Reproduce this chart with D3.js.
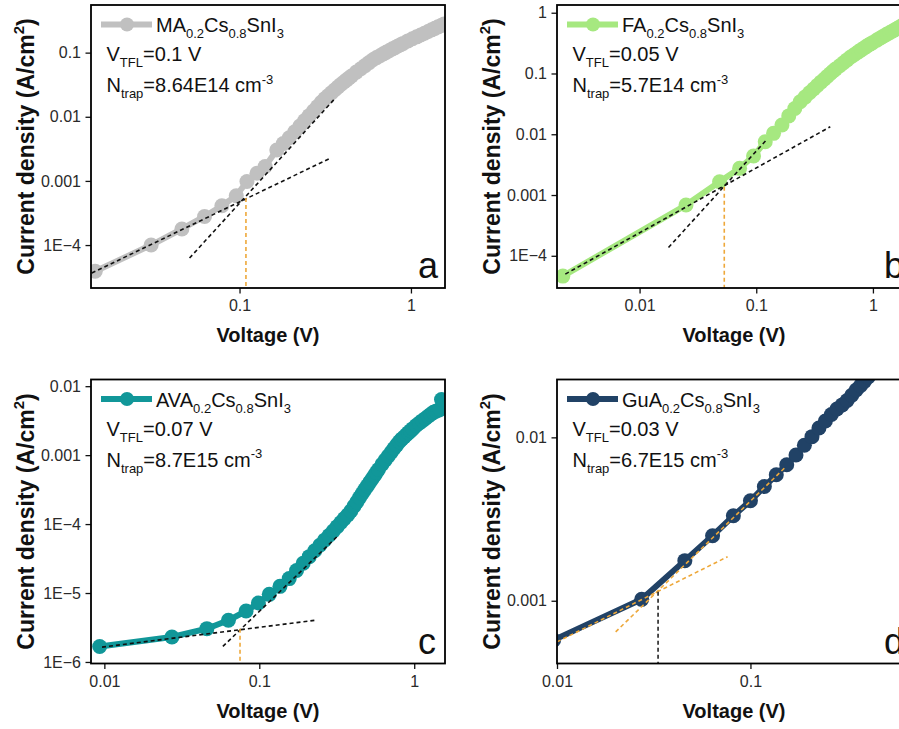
<!DOCTYPE html>
<html>
<head>
<meta charset="utf-8">
<script src="https://cdn.jsdelivr.net/npm/d3@7"></script>
<style>
  body { margin: 0; background: #fff; }
  svg { display: block; font-family: "Liberation Sans", Arial, sans-serif; }
</style>
</head>
<body>
<svg width="899" height="729"></svg>
<script>

// ---- values ----

// panel a : MA0.2Cs0.8SnI3
var voltA = [0.0144, 0.0305, 0.0461, 0.0625, 0.0789, 0.0957, 0.1105, 0.1264, 0.141, 0.165, 0.18, 0.195, 0.21, 0.225, 0.24, 0.255, 0.27, 0.285, 0.3, 0.315, 0.33, 0.345, 0.36, 0.375, 0.39, 0.405, 0.42, 0.435, 0.45, 0.48, 0.51, 0.54, 0.57, 0.6, 0.63, 0.66, 0.69, 0.72, 0.75, 0.78, 0.81, 0.84, 0.87, 0.9, 0.96, 1.02, 1.08, 1.14, 1.2, 1.26, 1.32, 1.38, 1.44, 1.5, 1.56]
var currA = [3.9e-5, 1.0e-4, 1.78e-4, 2.79e-4, 4.09e-4, 5.86e-4, 9.8e-4, 1.32e-3, 1.68e-3, 3.03e-3, 3.82e-3, 4.71e-3, 5.85e-3, 7.18e-3, 8.71e-3, 0.01042, 0.01233, 0.01445, 0.0168, 0.0192, 0.0214, 0.0238, 0.0264, 0.0291, 0.0319, 0.0346, 0.0373, 0.0403, 0.0433, 0.0497, 0.0561, 0.0628, 0.07, 0.0775, 0.0837, 0.0895, 0.0957, 0.102, 0.108, 0.1146, 0.1205, 0.1268, 0.133, 0.1393, 0.1524, 0.1643, 0.1764, 0.1888, 0.201, 0.2136, 0.2265, 0.2393, 0.2523, 0.2655, 0.2786]

// panel b : FA0.2Cs0.8SnI3
var voltB = [0.0022, 0.025, 0.0485, 0.072, 0.0948, 0.1194, 0.1407, 0.166, 0.19, 0.214, 0.238, 0.262, 0.286, 0.31, 0.334, 0.358, 0.382, 0.406, 0.43, 0.454, 0.478, 0.52, 0.56, 0.6, 0.64, 0.68, 0.72, 0.76, 0.8, 0.84, 0.88, 0.92, 0.96, 1.0, 1.08, 1.16, 1.24, 1.32, 1.4, 1.48, 1.56, 1.64, 1.72, 1.8, 1.88, 1.96, 2.04, 2.12]
var currB = [4.63e-5, 6.84e-4, 1.65e-3, 2.75e-3, 4.38e-3, 7.53e-3, 0.01035, 0.01417, 0.02004, 0.02655, 0.0343, 0.0409, 0.0481, 0.0557, 0.0637, 0.072, 0.0805, 0.0895, 0.099, 0.1088, 0.118, 0.1343, 0.1506, 0.1675, 0.1849, 0.2, 0.2155, 0.2312, 0.2472, 0.2633, 0.2797, 0.2948, 0.3096, 0.3244, 0.3543, 0.3848, 0.4157, 0.4445, 0.4733, 0.5024, 0.5315, 0.5606, 0.59, 0.6194, 0.649, 0.6786, 0.708, 0.738]

// panel c : AVA0.2Cs0.8SnI3
var voltC = [0.00933, 0.0273, 0.0459, 0.0632, 0.0822, 0.0987, 0.116, 0.136, 0.156, 0.174, 0.192, 0.21, 0.228, 0.246, 0.264, 0.282, 0.3, 0.318, 0.336, 0.354, 0.372, 0.39, 0.408, 0.426, 0.444, 0.462, 0.48, 0.498, 0.516, 0.534, 0.552, 0.57, 0.588, 0.62, 0.65, 0.68, 0.71, 0.74, 0.77, 0.8, 0.83, 0.86, 0.89, 0.92, 0.95, 0.98, 1.03, 1.08, 1.13, 1.18, 1.23, 1.28, 1.33, 1.38, 1.43, 1.47, 1.5]
var currC = [1.68e-6, 2.30e-6, 3.04e-6, 4.02e-6, 5.48e-6, 7.16e-6, 9.57e-6, 1.25e-5, 1.62e-5, 2.12e-5, 2.70e-5, 3.37e-5, 4.11e-5, 4.94e-5, 5.85e-5, 6.84e-5, 7.93e-5, 9.17e-5, 1.052e-4, 1.20e-4, 1.357e-4, 1.546e-4, 1.81e-4, 2.095e-4, 2.42e-4, 2.77e-4, 3.16e-4, 3.58e-4, 4.02e-4, 4.50e-4, 5.02e-4, 5.58e-4, 6.18e-4, 7.36e-4, 8.51e-4, 9.71e-4, 1.10e-3, 1.245e-3, 1.397e-3, 1.563e-3, 1.705e-3, 1.835e-3, 1.976e-3, 2.12e-3, 2.265e-3, 2.42e-3, 2.686e-3, 2.92e-3, 3.16e-3, 3.40e-3, 3.66e-3, 3.92e-3, 4.17e-3, 4.32e-3, 4.47e-3, 4.59e-3, 6.4e-3]

// panel d : GuA0.2Cs0.8SnI3
var voltD = [0.0096, 0.0274, 0.0458, 0.0637, 0.0816, 0.1, 0.118, 0.136, 0.154, 0.172, 0.19, 0.208, 0.226, 0.244, 0.262, 0.28, 0.298, 0.316, 0.334, 0.352, 0.37, 0.388, 0.406, 0.424, 0.442]
var currD = [5.74e-4, 1.02e-3, 1.76e-3, 2.5e-3, 3.31e-3, 4.09e-3, 5.0e-3, 5.9e-3, 6.8e-3, 7.8e-3, 8.95e-3, 0.0101, 0.0114, 0.0126, 0.0138, 0.0149, 0.0158, 0.0168, 0.0181, 0.0195, 0.0207, 0.022, 0.0234, 0.0248, 0.0262]

// fitted lines: [V start, V end] and [J start, J end]
var ohmicA_V = [0.01374, 0.3385], ohmicA_J = [3.66e-5, 2.26e-3]
var tflA_V = [0.0511, 0.362], tflA_J = [6.27e-5, 0.0195]
var ohmicB_V = [0.00231, 0.431], ohmicB_J = [5.0e-5, 0.01328]
var tflB_V = [0.0177, 0.1235], tflB_J = [1.37e-4, 8.24e-3]
var ohmicC_V = [0.00966, 0.229], ohmicC_J = [1.64e-6, 4.02e-6]
var tflC_V = [0.0582, 0.316], tflC_J = [1.68e-6, 6.5e-5]
var ohmicD_V = [0.01, 0.0762], ohmicD_J = [5.6e-4, 1.86e-3]
var tflD_V = [0.0201, 0.153], tflD_J = [6.45e-4, 6.64e-3]

// crossing point [V, J] where the drop line starts
var crossA = [0.109, 5.4e-4]
var crossB = [0.0532, 1.37e-3]
var crossC = [0.0751, 3.04e-6]
var crossD = [0.0333, 1.135e-3]

// axis ranges and ticks
var xDomA = [0.0136, 1.58], yDomA = [2.14e-5, 0.553]
var xDomB = [0.00196, 2.12], yDomB = [2.95e-5, 1.34]
var xDomC = [0.0082, 1.58], yDomC = [9.5e-7, 0.0125]
var xDomD = [0.01, 0.676], yDomD = [4.13e-4, 0.0226]

var xTicksA = [0.1, 1], xLabelsA = ['0.1', '1']
var yTicksA = [1e-4, 1e-3, 1e-2, 1e-1], yLabelsA = ['1E\u22124', '0.001', '0.01', '0.1']
var xTicksB = [0.01, 0.1, 1], xLabelsB = ['0.01', '0.1', '1']
var yTicksB = [1e-4, 1e-3, 1e-2, 1e-1, 1], yLabelsB = ['1E\u22124', '0.001', '0.01', '0.1', '1']
var xTicksC = [0.01, 0.1, 1], xLabelsC = ['0.01', '0.1', '1']
var yTicksC = [1e-6, 1e-5, 1e-4, 1e-3, 1e-2], yLabelsC = ['1E\u22126', '1E\u22125', '1E\u22124', '0.001', '0.01']
var xTicksD = [0.01, 0.1], xLabelsD = ['0.01', '0.1']
var yTicksD = [1e-3, 1e-2], yLabelsD = ['0.001', '0.01']

var cations = ['MA', 'FA', 'AVA', 'GuA']
var vtflText = ['0.1', '0.05', '0.07', '0.03']
var ntrapText = ['8.64E14', '5.7E14', '8.7E15', '6.7E15']
var letters = ['a', 'b', 'c', 'd']

var svg = d3.select('svg')
var orange = '#eea83a'

var panels = [
    {box: [91, 5, 445, 288], xDom: xDomA, yDom: yDomA, xt: xTicksA, xl: xLabelsA, yt: yTicksA, yl: yLabelsA,
     v: voltA, j: currA, color: '#c0c0c0', fits: [[ohmicA_V, ohmicA_J], [tflA_V, tflA_J]], cross: crossA, fitColor: '#111', dropColor: orange},
    {box: [557, 5, 911, 288], xDom: xDomB, yDom: yDomB, xt: xTicksB, xl: xLabelsB, yt: yTicksB, yl: yLabelsB,
     v: voltB, j: currB, color: '#a6e880', fits: [[ohmicB_V, ohmicB_J], [tflB_V, tflB_J]], cross: crossB, fitColor: '#111', dropColor: orange},
    {box: [91, 379.5, 445, 663.5], xDom: xDomC, yDom: yDomC, xt: xTicksC, xl: xLabelsC, yt: yTicksC, yl: yLabelsC,
     v: voltC, j: currC, color: '#119799', fits: [[ohmicC_V, ohmicC_J], [tflC_V, tflC_J]], cross: crossC, fitColor: '#111', dropColor: orange},
    {box: [557, 379.5, 911, 663.5], xDom: xDomD, yDom: yDomD, xt: xTicksD, xl: xLabelsD, yt: yTicksD, yl: yLabelsD,
     v: voltD, j: currD, color: '#214266', fits: [[ohmicD_V, ohmicD_J], [tflD_V, tflD_J]], cross: crossD, fitColor: orange, dropColor: '#222'}
]

// text with sub / superscripts, parts = [[string, ''|'sub'|'sup'], ...]
function rich(sel, parts, size) {
    var shift = 0
    parts.forEach(function(p) {
        var target = p[1] == 'sub' ? size * 0.3 : (p[1] == 'sup' ? -size * 0.42 : 0)
        sel.append('tspan')
            .attr('dy', target - shift)
            .attr('font-size', p[1] ? size * 0.65 : size)
            .text(p[0])
        shift = target
    })
}

function isDecade(t) {
    var l = Math.log10(t)
    return Math.abs(l - Math.round(l)) < 1e-9
}

function drawPanel(p, k) {
    var x0 = p.box[0], y0 = p.box[1], x1 = p.box[2], y1 = p.box[3]
    var x = d3.scaleLog().domain(p.xDom).range([x0, x1])
    var y = d3.scaleLog().domain(p.yDom).range([y1, y0])

    svg.append('clipPath').attr('id', 'clip' + k)
        .append('rect').attr('x', x0).attr('y', y0).attr('width', x1 - x0).attr('height', y1 - y0)

    var plot = svg.append('g').attr('clip-path', 'url(#clip' + k + ')')
    var pts = p.v.map(function(v, i) { return [v, p.j[i]] })
    var line = d3.line().x(function(d) { return x(d[0]) }).y(function(d) { return y(d[1]) })

    plot.append('path')
        .datum(pts)
        .attr('d', line)
        .attr('fill', 'none')
        .attr('stroke', p.color)
        .attr('stroke-width', 6)
        .attr('stroke-linejoin', 'round')

    plot.selectAll('circle')
        .data(pts)
        .join('circle')
        .attr('cx', function(d) { return x(d[0]) })
        .attr('cy', function(d) { return y(d[1]) })
        .attr('r', 7.5)
        .attr('fill', p.color)

    // fit lines
    p.fits.forEach(function(f) {
        plot.append('line')
            .attr('x1', x(f[0][0])).attr('y1', y(f[1][0]))
            .attr('x2', x(f[0][1])).attr('y2', y(f[1][1]))
            .attr('stroke', p.fitColor)
            .attr('stroke-width', 1.6)
            .attr('stroke-dasharray', '4,3')
    })

    // drop line down to the voltage axis
    plot.append('line')
        .attr('x1', x(p.cross[0])).attr('x2', x(p.cross[0]))
        .attr('y1', y(p.cross[1])).attr('y2', y1)
        .attr('stroke', p.dropColor)
        .attr('stroke-width', 1.6)
        .attr('stroke-dasharray', '4,3')

    // axes
    var minorX = x.ticks().filter(function(t) { return !isDecade(t) })
    var minorY = y.ticks().filter(function(t) { return !isDecade(t) })

    var gx = svg.append('g').attr('transform', 'translate(0,' + y1 + ')')
    gx.call(d3.axisBottom(x).tickValues(minorX).tickSize(3).tickFormat(''))
    gx.call(d3.axisBottom(x).tickValues(p.xt).tickSize(5.5).tickPadding(6.5)
        .tickFormat(function(d, i) { return p.xl[i] }))
    var gy = svg.append('g').attr('transform', 'translate(' + x0 + ',0)')
    gy.call(d3.axisLeft(y).tickValues(minorY).tickSize(3).tickFormat(''))
    gy.call(d3.axisLeft(y).tickValues(p.yt).tickSize(5.5).tickPadding(4.5)
        .tickFormat(function(d, i) { return p.yl[i] }))

    svg.selectAll('.domain').remove()
    svg.selectAll('.tick line').attr('stroke', '#111').attr('stroke-width', 1.3)
    svg.selectAll('.tick text')
        .attr('font-family', '"Liberation Sans", Arial, sans-serif')
        .attr('font-size', 16)
        .attr('fill', '#2a2a2a')

    // frame
    svg.append('rect')
        .attr('x', x0).attr('y', y0).attr('width', x1 - x0).attr('height', y1 - y0)
        .attr('fill', 'none').attr('stroke', '#000').attr('stroke-width', 1.8)

    // axis titles
    svg.append('text')
        .attr('x', x0 + 177).attr('y', y1 + 54)
        .attr('text-anchor', 'middle')
        .attr('font-weight', 'bold')
        .attr('font-size', 20)
        .attr('fill', '#111')
        .text('Voltage (V)')

    var yt = svg.append('text')
        .attr('transform', 'translate(' + (x0 - 57.5) + ',' + ((y0 + y1) / 2) + ') rotate(-90)')
        .attr('text-anchor', 'middle')
        .attr('font-weight', 'bold')
        .attr('fill', '#111')
    rich(yt, [['Current density (A/cm', ''], ['2', 'sup'], [')', '']], 23)

    // legend
    svg.append('line')
        .attr('x1', x0 + 10).attr('x2', x0 + 61)
        .attr('y1', y0 + 19.5).attr('y2', y0 + 19.5)
        .attr('stroke', p.color).attr('stroke-width', 6)
    svg.append('circle')
        .attr('cx', x0 + 36).attr('cy', y0 + 19.5).attr('r', 7)
        .attr('fill', p.color)

    var lt = svg.append('text').attr('x', x0 + 65).attr('y', y0 + 27).attr('fill', '#111')
    rich(lt, [[cations[k], ''], ['0.2', 'sub'], ['Cs', ''], ['0.8', 'sub'], ['SnI', ''], ['3', 'sub']], 20)

    var vt = svg.append('text').attr('x', x0 + 15.5).attr('y', y0 + 56).attr('fill', '#111')
    rich(vt, [['V', ''], ['TFL', 'sub'], ['=' + vtflText[k] + ' V', '']], 20)

    var nt = svg.append('text').attr('x', x0 + 15.5).attr('y', y0 + 87).attr('fill', '#111')
    rich(nt, [['N', ''], ['trap', 'sub'], ['=' + ntrapText[k] + ' cm', ''], ['-3', 'sup']], 20)

    // panel letter
    svg.append('text')
        .attr('x', x0 + 327).attr('y', y1 - 10)
        .attr('font-size', 36)
        .attr('fill', '#111')
        .text(letters[k])
}

panels.forEach(drawPanel)

</script>
</body>
</html>
